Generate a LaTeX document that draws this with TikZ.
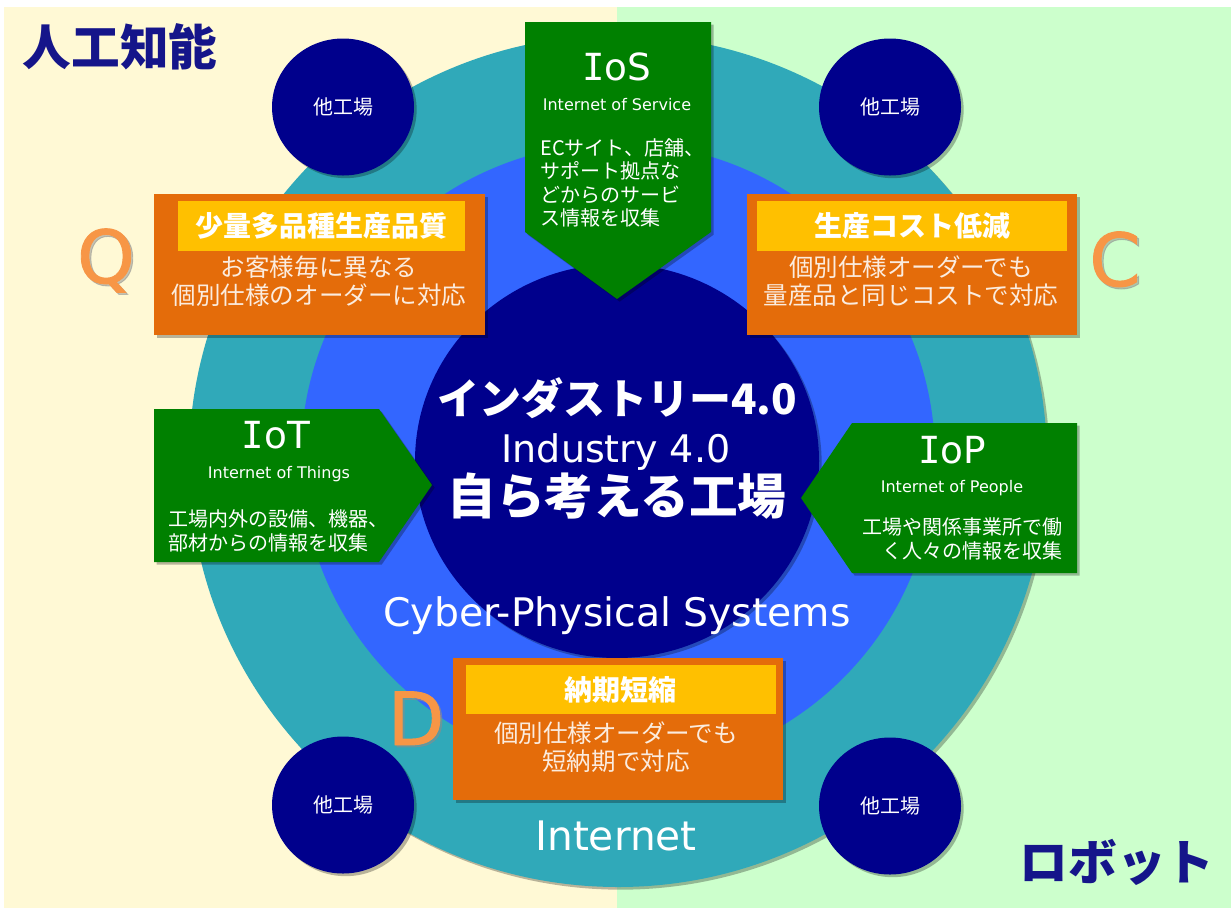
\documentclass[tikz,border=0pt]{standalone}
\usepackage{fontspec}
\setmainfont{Noto Sans CJK JP}
\newfontfamily\lat{DejaVu Sans}
\newfontfamily\latm{DejaVu Sans Mono}
\newfontfamily\latlet{DejaVu Sans}[FakeBold=1.2]
\usetikzlibrary{shadows,shapes.geometric}
\definecolor{bgY}{HTML}{FFF9D5}
\definecolor{bgG}{HTML}{CCFFCC}
\definecolor{teal0}{HTML}{30A9B9}
\definecolor{blue0}{HTML}{3366FF}
\definecolor{navy0}{HTML}{00008C}
\definecolor{grn}{HTML}{008000}
\definecolor{org}{HTML}{E46C0A}
\definecolor{ylw}{HTML}{FFC000}
\definecolor{ltr}{HTML}{F79646}
\definecolor{ttl}{HTML}{15158A}
\definecolor{cream}{HTML}{FBECDF}
\newcommand\fsz[2]{\fontsize{#1}{#2}\selectfont}
\begin{document}
\begin{tikzpicture}[x=0.75pt,y=-0.75pt,
  shd/.style={drop shadow={shadow xshift=2pt,shadow yshift=-2pt,opacity=0.28,fill=black}},
  fac/.style={ellipse,fill=navy0,minimum width=106.5pt,minimum height=102.75pt,inner sep=0pt,shd,
              text=white,font=\fsz{15}{18}},
  gtitle/.style={inner sep=0pt,text=white,font=\lat\fsz{28}{32},anchor=base},
  gsub/.style={inner sep=0pt,text=white,font=\lat\fsz{12}{14},anchor=base},
  gbody/.style={inner sep=0pt,text=white,font=\fsz{15}{17.6}},
  otitle/.style={inner sep=0pt,text=white,font=\bfseries\fsz{21}{24}},
  obody/.style={inner sep=0pt,text=cream,font=\fsz{18.4}{21},align=center},
  letter/.style={inner sep=0pt,text=ltr,font=\latlet\fsz{55}{60},anchor=base},
  lettershd/.style={inner sep=0pt,text=black!45,opacity=0.5,font=\latlet\fsz{55}{60},anchor=base},
  bigtitle/.style={inner sep=0pt,text=ttl,font=\bfseries\fsz{36.5}{40}},
  ctext/.style={inner sep=0pt,text=white}
]
\useasboundingbox (0,0) rectangle (1231,908);
% background
\fill[white] (0,0) rectangle (1231,908);
\fill[bgY] (4,7) rectangle (617,908);
\fill[bgG] (617,7) rectangle (1231,908);

% rings
\fill[teal0,shd] (618,461) ellipse [x radius=321.75pt, y radius=319.5pt];
\fill[blue0] (618,457) ellipse [x radius=237.75pt, y radius=235.5pt];
\fill[navy0,shd] (617,461) ellipse [x radius=151.5pt, y radius=147.75pt];

% other factories
\node[fac] (f1) at (343,107) {他工場};
\node[fac] (f2) at (890,107) {他工場};
\node[fac] (f3) at (343,805) {他工場};
\node[fac] (f4) at (890,806) {他工場};

% corner titles
\node[bigtitle] (ai) at (120,47) {人工知能};
\node[bigtitle] (robot) at (1117,862) {ロボット};

% IoS
\fill[grn,shd] (525,22) -- (711,22) -- (711,232) -- (617,299) -- (525,232) -- cycle;
\node[gtitle] (iosT) at (617,80) {{\latm I}oS};
\node[gsub] (iosS) at (617,110) {Internet of Service};
\node[gbody,anchor=west,align=left] (iosB) at (540,183) {ECサイト、店舗、\\サポート拠点な\\どからのサービ\\ス情報を収集};

% IoT
\fill[grn,shd] (154,409) -- (379,409) -- (432,485) -- (379,562) -- (154,562) -- cycle;
\node[gtitle] (iotT) at (276,448) {{\latm I}oT};
\node[gsub] (iotS) at (279,478) {Internet of Things};
\node[gbody,anchor=west,align=left] (iotB) at (168,531) {工場内外の設備、機器、\\部材からの情報を収集};

% IoP
\fill[grn,shd] (852,423) -- (1077,423) -- (1077,573) -- (852,573) -- (801,498) -- cycle;
\node[gtitle] (iopT) at (952,463) {{\latm I}oP};
\node[gsub] (iopS) at (952,492) {Internet of People};
\node[gbody,anchor=east,align=right] (iopB) at (1063,539) {工場や関係事業所で働\\く人々の情報を収集};

% Q box
\fill[org,shd] (154,194) rectangle (485,335);
\fill[ylw] (178,201) rectangle (465,251);
\node[otitle] (qT) at (321,226) {少量多品種生産品質};
\node[obody] (qB) at (319,281) {お客様毎に異なる\\個別仕様のオーダーに対応};

% C box
\fill[org,shd] (747,194) rectangle (1077,335);
\fill[ylw] (757,201) rectangle (1067,251);
\node[otitle] (cT) at (912,226) {生産コスト低減};
\node[obody] (cB) at (911,281) {個別仕様オーダーでも\\量産品と同じコストで対応};

% D box
\fill[org,shd] (453,658) rectangle (783,800);
\fill[ylw] (466,665) rectangle (776,714);
\node[otitle] (dT) at (620,690) {納期短縮};
\node[obody] (dB) at (616,747) {個別仕様オーダーでも\\短納期で対応};

% Q C D letters
\node[lettershd] at (108,285) {Q};
\node[letter] (q) at (106,283) {Q};
\node[lettershd] at (1117,288) {C};
\node[letter] (c) at (1115,286) {C};
\node[lettershd] at (418,747) {D};
\node[letter] (d) at (416,745) {D};

% centre
\node[ctext,font=\bfseries\fsz{31.5}{36}] (ind) at (617,398) {インダストリー4.0};
\node[ctext,font=\lat\fsz{28.5}{32},anchor=base] (indE) at (616,462) {Industry 4.0};
\node[ctext,font=\bfseries\fsz{36.5}{40}] (self) at (617,496) {自ら考える工場};
\node[ctext,font=\lat\fsz{29.5}{32},anchor=base] (cps) at (617,626) {Cyber-Physical Systems};
\node[ctext,font=\lat\fsz{30.5}{34},anchor=base] (inet) at (616,850) {Internet};
\end{tikzpicture}
\end{document}
